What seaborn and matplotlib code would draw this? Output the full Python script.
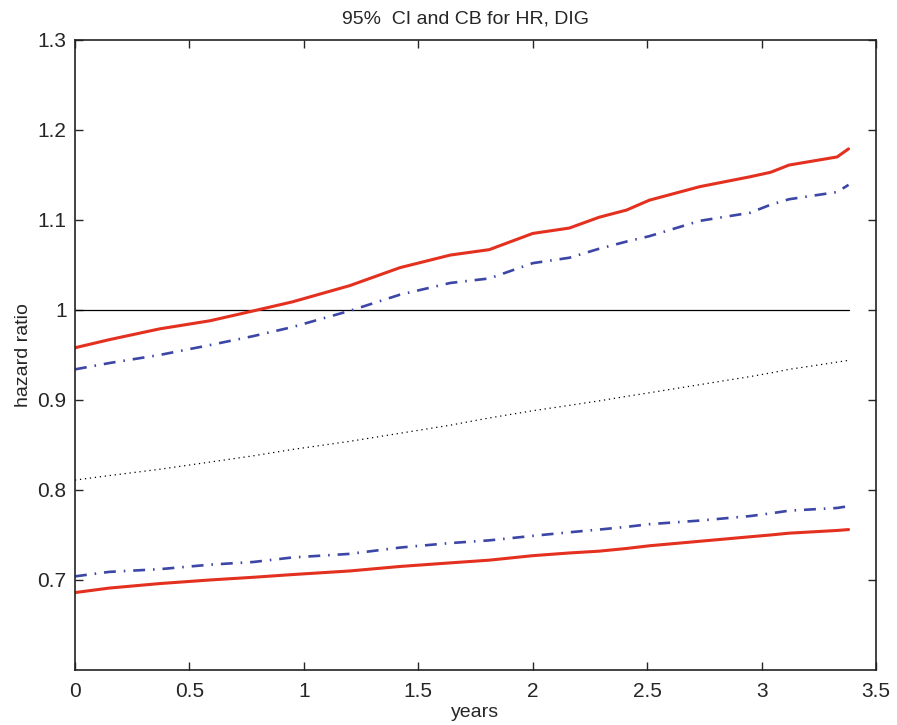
import numpy as np
import pandas as pd
import matplotlib
matplotlib.use("Agg")
import matplotlib.pyplot as plt
import seaborn as sns

# values
years = [0, 0.15, 0.37, 0.59, 0.78, 0.95, 1.2, 1.42, 1.64, 1.81, 2.0,
         2.16, 2.29, 2.41, 2.51, 2.73, 2.95, 3.04, 3.12, 3.33, 3.38]

cb_upper = [0.958, 0.967, 0.979, 0.988, 0.999, 1.009, 1.027, 1.047, 1.061, 1.067, 1.085,
            1.091, 1.103, 1.111, 1.122, 1.137, 1.148, 1.153, 1.161, 1.170, 1.179]
ci_upper = [0.934, 0.941, 0.950, 0.961, 0.971, 0.981, 0.999, 1.017, 1.030, 1.035, 1.052,
            1.058, 1.068, 1.076, 1.082, 1.099, 1.108, 1.117, 1.123, 1.131, 1.139]
hr = [0.811, 0.816, 0.823, 0.831, 0.838, 0.845, 0.854, 0.863, 0.872, 0.880, 0.888,
      0.894, 0.899, 0.904, 0.908, 0.917, 0.926, 0.930, 0.934, 0.942, 0.944]
ci_lower = [0.704, 0.709, 0.712, 0.717, 0.720, 0.725, 0.729, 0.736, 0.741, 0.744, 0.749,
            0.753, 0.756, 0.759, 0.762, 0.766, 0.771, 0.774, 0.777, 0.780, 0.782]
cb_lower = [0.686, 0.691, 0.696, 0.700, 0.703, 0.706, 0.710, 0.715, 0.719, 0.722, 0.727,
            0.730, 0.732, 0.735, 0.738, 0.743, 0.748, 0.750, 0.752, 0.755, 0.756]

ref_x = [0, 3.38]
ref_y = [1, 1]

xticks = [0, 0.5, 1, 1.5, 2, 2.5, 3, 3.5]
xtick_labels = ["0", "0.5", "1", "1.5", "2", "2.5", "3", "3.5"]
yticks = [0.7, 0.8, 0.9, 1.0, 1.1, 1.2, 1.3]
ytick_labels = ["0.7", "0.8", "0.9", "1", "1.1", "1.2", "1.3"]

sns.set_style("ticks")
plt.rcParams["font.family"] = ["Liberation Sans", "DejaVu Sans"]

fig = plt.figure(figsize=(8.97, 7.25), dpi=100)
ax = fig.add_axes([0.0836, 0.0759, 0.893, 0.869])

red = "#e3301f"
blue = "#3c46a6"

sns.lineplot(x=ref_x, y=ref_y, ax=ax, color="black", linewidth=0.9)
sns.lineplot(x=years, y=cb_upper, ax=ax, color=red, linewidth=2.2)
sns.lineplot(x=years, y=cb_lower, ax=ax, color=red, linewidth=2.2)
sns.lineplot(x=years, y=ci_upper, ax=ax, color=blue, linewidth=1.9,
             dashes=False).lines[-1].set_dashes([4.5, 3, 0.6, 3])
sns.lineplot(x=years, y=ci_lower, ax=ax, color=blue, linewidth=1.9,
             dashes=False).lines[-1].set_dashes([4.5, 3, 0.6, 3])
sns.lineplot(x=years, y=hr, ax=ax, color="black", linewidth=0.9,
             dashes=False).lines[-1].set_dashes([1, 3])

ax.set_xlim(0, 3.5)
ax.set_ylim(0.6, 1.3)
ax.set_xticks(xticks)
ax.set_xticklabels(xtick_labels)
ax.set_yticks(yticks)
ax.set_yticklabels(ytick_labels)
ax.tick_params(direction="in", top=True, right=True, length=6, width=1,
               labelsize=15, pad=6)
ax.tick_params(axis="x", pad=9)
for s in ax.spines.values():
    s.set_visible(True)
    s.set_linewidth(1.2)
    s.set_color("#222222")

ax.set_title("95%  CI and CB for HR, DIG", fontsize=14, pad=12, x=0.488)
ax.set_xlabel("years", fontsize=14, labelpad=2)
ax.set_ylabel("hazard ratio", fontsize=14, labelpad=4)

fig.savefig("out.png", dpi=100)
